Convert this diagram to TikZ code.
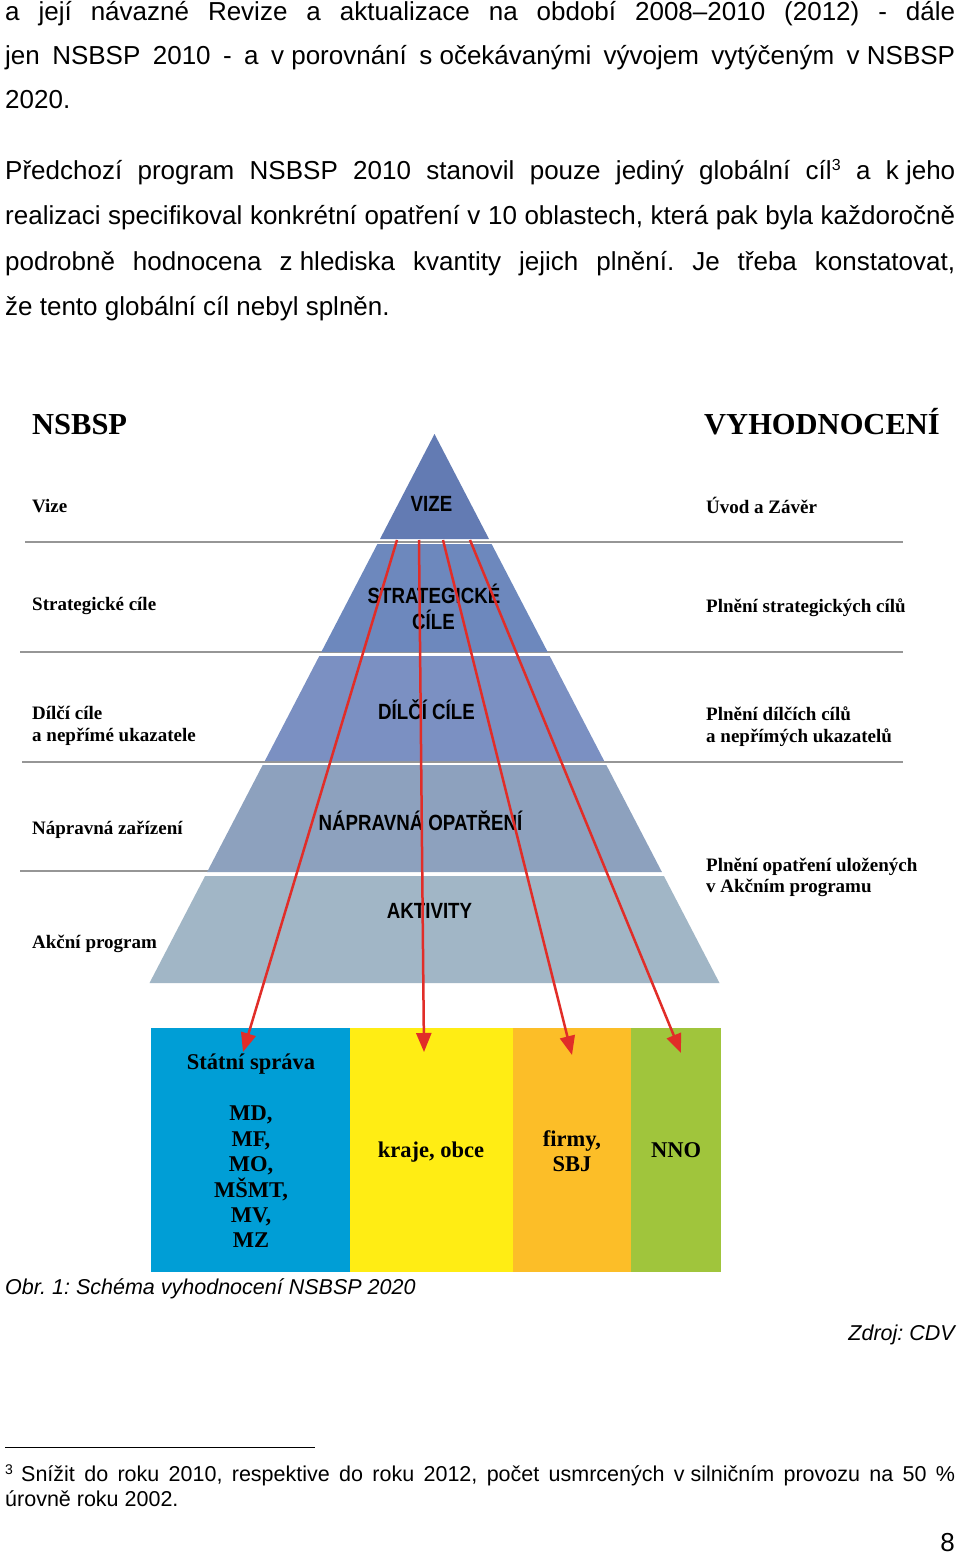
\documentclass[tikz,border=0pt]{standalone}
\usepackage{fontspec}
\setmainfont{Liberation Sans}
\newfontfamily\tms{Liberation Serif}
\newfontfamily\pyrf{Liberation Sans}[FakeStretch=0.85]
\usetikzlibrary{arrows.meta}
\definecolor{bandA}{RGB}{99,123,179}
\definecolor{bandB}{RGB}{109,136,189}
\definecolor{bandC}{RGB}{123,144,194}
\definecolor{bandD}{RGB}{141,161,190}
\definecolor{bandE}{RGB}{161,182,198}
\definecolor{sepgray}{RGB}{150,150,150}
\definecolor{arrred}{RGB}{225,45,40}
\definecolor{cblue}{RGB}{0,158,214}
\definecolor{cyellow}{RGB}{255,237,20}
\definecolor{corange}{RGB}{252,190,40}
\definecolor{cgreen}{RGB}{160,197,60}
\newcommand\fs{\hspace*{0.278em}}
\newcommand\bodyfont{\fontsize{26}{30}\selectfont}
\newcommand\smallfont{\fontsize{21.5}{25}\selectfont}
\frenchspacing
\begin{document}
\frenchspacing
\begin{tikzpicture}[x=1pt,y=-1pt,
  body/.style={anchor=base west, inner sep=0, font=\bodyfont},
  lab/.style={anchor=base west, inner sep=0, font=\tms\bfseries\fontsize{19}{23}\selectfont},
  ttl/.style={anchor=base west, inner sep=0, font=\tms\bfseries\fontsize{30.5}{35}\selectfont},
  pyr/.style={anchor=base, inner sep=0, font=\pyrf\bfseries\fontsize{22}{26}\selectfont},
  boxt/.style={anchor=base, inner sep=0, font=\tms\bfseries\fontsize{22.5}{25}\selectfont},
  sep/.style={draw=sepgray, line width=2pt},
  redarr/.style={draw=arrred, line width=2.5pt, -{Triangle[length=19pt,width=15pt]}},
  colbox/.style={anchor=north west, inner sep=0, minimum height=244pt}
]
\fill[white] (0,0) rectangle (960,1554);
\useasboundingbox (0,0) rectangle (960,1554);

% ---- body text ----
\node[body] (p1) at (5,21) {\makebox[950pt][s]{a její návazné Revize a aktualizace na období 2008–2010 (2012) - dále}};
\node[body] (p2) at (5,65) {\makebox[950pt][s]{jen NSBSP 2010 - a v\fs porovnání s\fs očekávanými vývojem vytýčeným v\fs NSBSP}};
\node[body] (p3) at (5,109) {2020.};
\node[body] (p4) at (5,180) {\makebox[950pt][s]{Předchozí program NSBSP 2010 stanovil pouze jediný globální cíl\raisebox{9pt}{\fontsize{16}{16}\selectfont 3} a k\fs jeho}};
\node[body] (p5) at (5,225) {\makebox[950pt][s]{realizaci specifikoval konkrétní opatření v 10 oblastech, která pak byla každoročně}};
\node[body] (p6) at (5,270) {\makebox[950pt][s]{podrobně hodnocena z\fs hlediska kvantity jejich plnění. Je třeba konstatovat,}};
\node[body] (p7) at (5,315) {že tento globální cíl nebyl splněn.};

% ---- separator lines (behind pyramid) ----
\draw[sep] (25,542) -- (903,542);
\draw[sep] (20,652) -- (903,652);
\draw[sep] (22,762) -- (903,762);
\draw[sep] (20,871) -- (210,871);

% ---- pyramid ----
\fill[bandA] (434.5,434) -- (489,539) -- (380,539) -- cycle;
\fill[bandB] (377.4,544) -- (491.6,544) -- (547.7,652) -- (321.3,652) -- cycle;
\fill[bandC] (319.3,656) -- (549.7,656) -- (604.2,761) -- (264.8,761) -- cycle;
\fill[bandD] (262.7,765) -- (606.3,765) -- (661.9,872) -- (207.1,872) -- cycle;
\fill[bandE] (205.1,876) -- (663.9,876) -- (719.5,983) -- (149.5,983) -- cycle;

\node[pyr] (vize) at (431.5,511) {VIZE};
\node[pyr] (strat) at (434,603) {STRATEGICKÉ};
\node[pyr] (strat2) at (433.5,629) {CÍLE};
\node[pyr] (dilci) at (426.5,719) {DÍLČÍ CÍLE};
\node[pyr] (naprav) at (420.5,830) {NÁPRAVNÁ OPATŘENÍ};
\node[pyr] (aktiv) at (429.5,918) {AKTIVITY};

% ---- titles and side labels ----
\node[ttl] (tl) at (32,434) {NSBSP};
\node[ttl] (tr) at (704,434) {VYHODNOCENÍ};
\node[lab] (l1) at (32,512) {Vize};
\node[lab] (l2) at (32,610) {Strategické cíle};
\node[lab] (l3) at (32,719) {Dílčí cíle};
\node[lab] (l3b) at (32,741) {a nepřímé ukazatele};
\node[lab] (l4) at (32,834) {Nápravná zařízení};
\node[lab] (l5) at (32,948) {Akční program};
\node[lab] (r1) at (706,513) {Úvod a Závěr};
\node[lab] (r2) at (706,612) {Plnění strategických cílů};
\node[lab] (r3) at (706,720) {Plnění dílčích cílů};
\node[lab] (r3b) at (706,742) {a nepřímých ukazatelů};
\node[lab] (r4) at (706,871) {Plnění opatření uložených};
\node[lab] (r4b) at (706,892) {v Akčním programu};

% ---- coloured boxes ----
\node[colbox, fill=cblue, minimum width=199pt] (bs) at (151,1028) {};
\node[colbox, fill=cyellow, minimum width=163pt] (bk) at (350,1028) {};
\node[colbox, fill=corange, minimum width=118pt] (bf) at (513,1028) {};
\node[colbox, fill=cgreen, minimum width=90pt] (bn) at (631,1028) {};

\node[boxt] (s0) at (251,1069) {Státní správa};
\node[boxt] (s1) at (251,1120) {MD,};
\node[boxt] (s2) at (251,1146) {MF,};
\node[boxt] (s3) at (251,1171) {MO,};
\node[boxt] (s4) at (251,1197) {MŠMT,};
\node[boxt] (s5) at (251,1222) {MV,};
\node[boxt] (s6) at (251,1247) {MZ};
\node[boxt] (k1) at (431,1157) {kraje, obce};
\node[boxt] (f1) at (572,1146) {firmy,};
\node[boxt] (f2) at (572,1171) {SBJ};
\node[boxt] (n1) at (676,1157) {NNO};

% ---- red arrows ----
\coordinate (a1) at (397,540);
\coordinate (a2) at (419,540);
\coordinate (a3) at (443,540);
\coordinate (a4) at (470,540);
\coordinate (t1) at (243,1052);
\coordinate (t2) at (424,1052);
\coordinate (t3) at (572,1055);
\coordinate (t4) at (681,1053);
\draw[redarr] (a1) -- (t1);
\draw[redarr] (a2) -- (t2);
\draw[redarr] (a3) -- (t3);
\draw[redarr] (a4) -- (t4);

% ---- caption, source, footnote ----
\node[anchor=base west, inner sep=0, font=\smallfont\itshape] (cap) at (5,1294) {Obr. 1: Schéma vyhodnocení NSBSP 2020};
\node[anchor=base east, inner sep=0, font=\smallfont\itshape] (src) at (955,1340) {Zdroj: CDV};
\coordinate (fr1) at (5,1447);
\coordinate (fr2) at (315,1447);
\draw[black, line width=1pt] (fr1) -- (fr2);
\node[anchor=base west, inner sep=0, font=\fontsize{14}{14}\selectfont] (fn3) at (5,1474) {3};
\node[anchor=base west, inner sep=0, font=\smallfont] (fn1) at (21,1481) {\makebox[934pt][s]{Snížit do roku 2010, respektive do roku 2012, počet usmrcených v\fs silničním provozu na 50 \%}};
\node[anchor=base west, inner sep=0, font=\smallfont] (fn2) at (5,1506) {úrovně roku 2002.};
\node[anchor=base east, inner sep=0, font=\bodyfont] (pg) at (955,1551) {8};
\end{tikzpicture}
\end{document}
